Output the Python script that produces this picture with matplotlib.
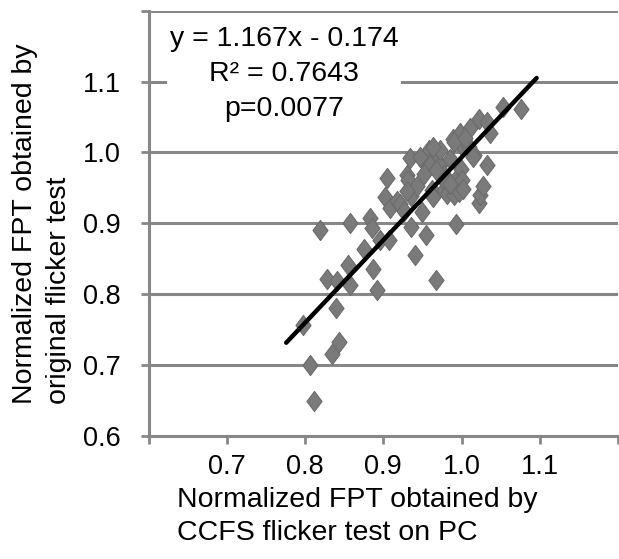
import matplotlib
matplotlib.use("Agg")
import matplotlib.pyplot as plt
from matplotlib.path import Path
import numpy as np

plt.rcParams['font.family'] = ['Liberation Sans', 'DejaVu Sans']

# Data
x_vals = [0.798, 0.806, 0.812, 0.834, 0.844, 0.840, 0.819, 0.828, 0.841, 0.858,
          0.855, 0.858, 0.876, 0.887, 0.892, 0.883, 0.885, 0.896, 0.907, 0.902,
          0.909, 0.918, 0.905, 0.930, 0.934, 0.935, 0.936, 0.940, 0.950, 0.954,
          0.967, 0.993, 0.932, 0.943, 0.930, 0.921, 0.926, 0.962, 0.964, 0.958,
          0.968, 0.953, 0.960, 0.947, 0.973, 0.977, 0.977, 0.978, 0.982, 0.985,
          0.989, 0.990, 0.994, 0.997, 0.999, 0.998, 1.001, 1.002, 0.999, 1.010,
          1.011, 1.016, 1.015, 1.022, 1.032, 1.036, 1.022, 1.024, 1.028, 1.033,
          1.053, 1.076, 0.973, 0.963, 0.990, 1.005, 0.952, 0.967, 0.985]
y_vals = [0.757, 0.700, 0.649, 0.716, 0.733, 0.780, 0.891, 0.822, 0.818, 0.813,
          0.841, 0.900, 0.864, 0.836, 0.806, 0.907, 0.894, 0.876, 0.876, 0.937,
          0.921, 0.932, 0.964, 0.968, 0.992, 0.939, 0.895, 0.856, 0.916, 0.883,
          0.820, 0.899, 0.961, 0.952, 0.945, 0.928, 0.918, 0.947, 0.937, 1.003,
          0.999, 0.985, 0.982, 0.994, 0.982, 0.968, 0.947, 0.961, 0.942, 0.991,
          1.019, 0.940, 0.964, 0.944, 0.977, 1.027, 0.961, 0.949, 1.010, 1.008,
          1.034, 0.996, 0.994, 1.047, 1.043, 1.027, 0.929, 0.940, 0.952, 0.982,
          1.064, 1.062, 1.003, 1.008, 1.015, 1.020, 0.970, 0.975, 0.955]

trend_slope = 1.167
trend_intercept = -0.174
trend_x = [0.776, 1.096]

x_ticks = [0.6, 0.7, 0.8, 0.9, 1.0, 1.1, 1.2]
x_tick_labels = ['', '0.7', '0.8', '0.9', '1.0', '1.1', '']
y_ticks = [0.6, 0.7, 0.8, 0.9, 1.0, 1.1, 1.2]
y_tick_labels = ['0.6', '0.7', '0.8', '0.9', '1.0', '1.1', '']

eq_text = "y = 1.167x - 0.174\nR² = 0.7643\np=0.0077"
x_label = "Normalized FPT obtained by\nCCFS flicker test on PC"
y_label = "Normalized FPT obtained by\noriginal flicker test"

grid_col = '#878787'

fig = plt.figure(figsize=(6.19, 5.59), dpi=100)
ax = fig.add_axes([148.5/619, 1-436/559, (618-148.5)/619, (436-10.7)/559])

diamond = Path([(0, 1), (0.75, 0), (0, -1), (-0.75, 0), (0, 1)],
               [Path.MOVETO, Path.LINETO, Path.LINETO, Path.LINETO, Path.CLOSEPOLY])

ax.set_xlim(0.6, 1.2)
ax.set_ylim(0.6, 1.2)
ax.set_yticks(y_ticks)
ax.set_yticklabels(y_tick_labels)
ax.set_xticks(x_ticks)
ax.set_xticklabels(x_tick_labels)
ax.grid(axis='y', color=grid_col, linewidth=2.2, zorder=0)
ax.set_axisbelow(True)

ax.scatter(x_vals, y_vals, marker=diamond, s=210, facecolor='#7a7a7a',
           edgecolor='#6c6c6c', linewidth=0.8, zorder=3)

tx = np.array(trend_x)
ax.plot(tx, trend_slope * tx + trend_intercept, color='black', linewidth=3.2,
        solid_capstyle='round', zorder=4)

for s in ['top', 'right']:
    ax.spines[s].set_visible(False)
for s in ['left', 'bottom']:
    ax.spines[s].set_color(grid_col)
    ax.spines[s].set_linewidth(2.2)
ax.tick_params(axis='both', colors=grid_col, width=2, length=6, labelsize=19.5,
               labelcolor='black')
ax.tick_params(axis='x', pad=7)
ax.tick_params(axis='y', pad=14)

ax.text(284/619, 1-74/559, eq_text, transform=fig.transFigure, ha='center',
        va='center', fontsize=20.5, linespacing=1.45, zorder=5,
        bbox=dict(boxstyle='square,pad=0.1', facecolor='white', edgecolor='none'))

fig.text(177/619, 1-487/559, x_label, ha='left', va='top', fontsize=20.5,
         linespacing=1.35)
fig.text(42/619, 1-404/559, y_label, ha='center', va='bottom', rotation=90,
         fontsize=20.5, linespacing=1.4, multialignment='left')

fig.savefig('out.png', dpi=100)
